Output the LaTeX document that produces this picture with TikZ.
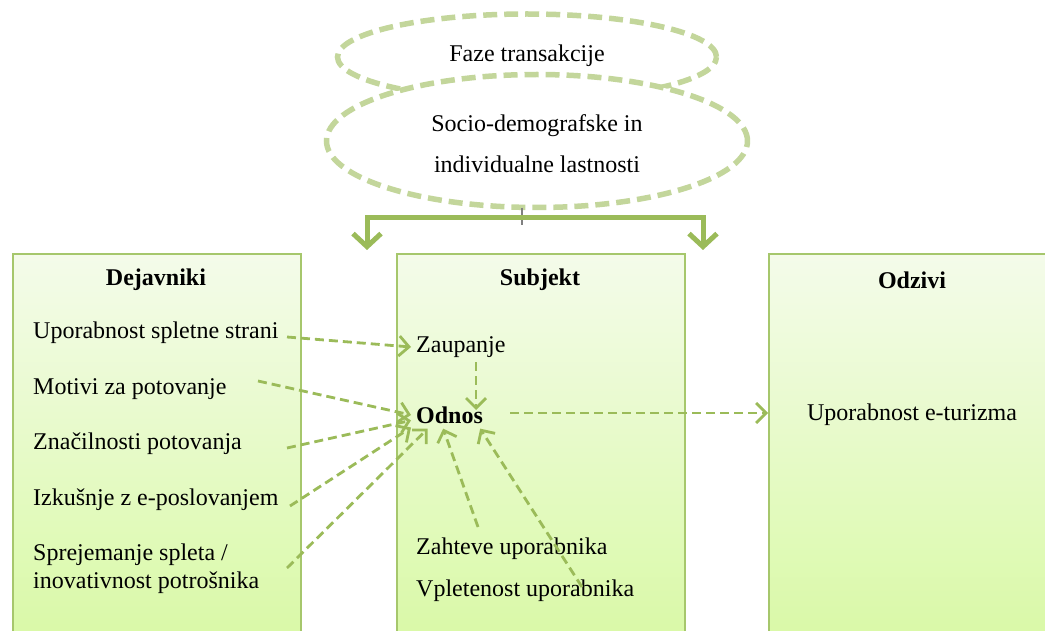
\documentclass[tikz,border=0pt]{standalone}
\usepackage{fontspec}
\setmainfont{Liberation Serif}
\usetikzlibrary{arrows.meta,shapes.geometric,shadows}
\definecolor{olv}{HTML}{9BBB59}
\definecolor{olvlight}{HTML}{C3D69B}
\definecolor{boxtop}{HTML}{F4FBEA}
\definecolor{boxbot}{HTML}{D6F99F}
\definecolor{boxline}{HTML}{A6C76C}
\begin{document}
\begin{tikzpicture}[x=1pt,y=-1pt,
  txt/.style={font=\fontsize{24}{28}\selectfont, inner sep=5pt, anchor=west},
  ttl/.style={font=\fontsize{24}{28}\selectfont\bfseries, inner sep=0pt},
  panel/.style={draw=boxline, line width=1.8pt, top color=boxtop, bottom color=boxbot,
    anchor=north west, minimum width=288pt, minimum height=430pt, inner sep=0pt,
    drop shadow={shadow xshift=1.5pt, shadow yshift=-1.5pt, opacity=0.25, fill=black!40}},
  ell/.style={ellipse, draw=olvlight, line width=5.5pt, dash pattern=on 14pt off 7pt, inner sep=0pt},
  dar/.style={draw=olv, line width=2.8pt, dash pattern=on 9pt off 5pt,
    -{Straight Barb[length=10pt, width=20pt, line width=2.8pt]}},
  brk/.style={draw=olv, line width=5pt,
    {Straight Barb[length=13pt, width=28pt, line width=5pt]}-{Straight Barb[length=13pt, width=28pt, line width=5pt]}}
]
\useasboundingbox (0,0) rectangle (1045,631);
\clip (0,0) rectangle (1045,631);

% panels
\node[panel] (bdej) at (12,253) {};
\node[panel] (bsub) at (396,253) {};
\node[panel] (bodz) at (768,253) {};

% ellipses
\node[ell, minimum width=379pt, minimum height=86pt] (faze) at (527,57) {};
\node[font=\fontsize{24}{28}\selectfont] (fazet) at (527,56) {Faze transakcije};
\node[ell, fill=white, minimum width=421pt, minimum height=133pt] (soc) at (537,141) {};
\node[font=\fontsize{24}{41}\selectfont, align=center] (soct) at (537,144) {Socio-demografske in\\individualne lastnosti};

% bracket
\coordinate (stemtop) at (522,208);
\coordinate (stem) at (522,225);
\draw[gray, line width=2pt] (stemtop) -- (stem);
\coordinate (bl) at (367,250);
\coordinate (br) at (703,250);
\draw[brk] (bl) -- (367,218) -- (703,218) -- (br);

% titles
\node[ttl] (tdej) at (156,280) {Dejavniki};
\node[ttl] (tsub) at (540,280) {Subjekt};
\node[ttl] (todz) at (912,280) {Odzivi};

% left texts
\node[txt] (ups) at (28,333) {Uporabnost spletne strani};
\node[txt] (mot) at (28,389) {Motivi za potovanje};
\node[txt] (zna) at (28,444) {Značilnosti potovanja};
\node[txt] (izk) at (28,500) {Izkušnje z e-poslovanjem};
\node[txt, align=left] (spr) at (28,569) {Sprejemanje spleta /\\inovativnost potrošnika};

% subject texts
\node[txt] (zau) at (411,347) {Zaupanje};
\node[txt, font=\fontsize{24}{28}\selectfont\bfseries] (odn) at (411,415) {Odnos};
\node[txt] (zah) at (411,549) {Zahteve uporabnika};
\node[txt] (vpl) at (411,591) {Vpletenost uporabnika};

% response text
\node[font=\fontsize{24}{28}\selectfont] (upe) at (912,415) {Uporabnost e-turizma};

% arrow start points
\coordinate (s1) at (287,337);
\coordinate (s2) at (258,381);
\coordinate (s3) at (287,448);
\coordinate (s4) at (290,506);
\coordinate (s5) at (287,568);
\coordinate (s6) at (476,362);
\coordinate (s7) at (478,527);
\coordinate (s8) at (582,587);
\coordinate (s9) at (510,413);
\coordinate (t6) at (476,410);

\draw[dar] (s1) -- (zau.west);
\draw[dar] (s2) -- (odn.west);
\draw[dar] (s3) -- (odn.188);
\draw[dar] (s4) -- (odn.198);
\draw[dar] (s5) -- (odn.212);
\draw[dar] (s6) -- (t6);
\draw[dar] (s7) -- (odn.245);
\draw[dar] (s8) -- (odn.336);
\draw[dar] (s9) -- (bodz.west |- s9);
\end{tikzpicture}
\end{document}
